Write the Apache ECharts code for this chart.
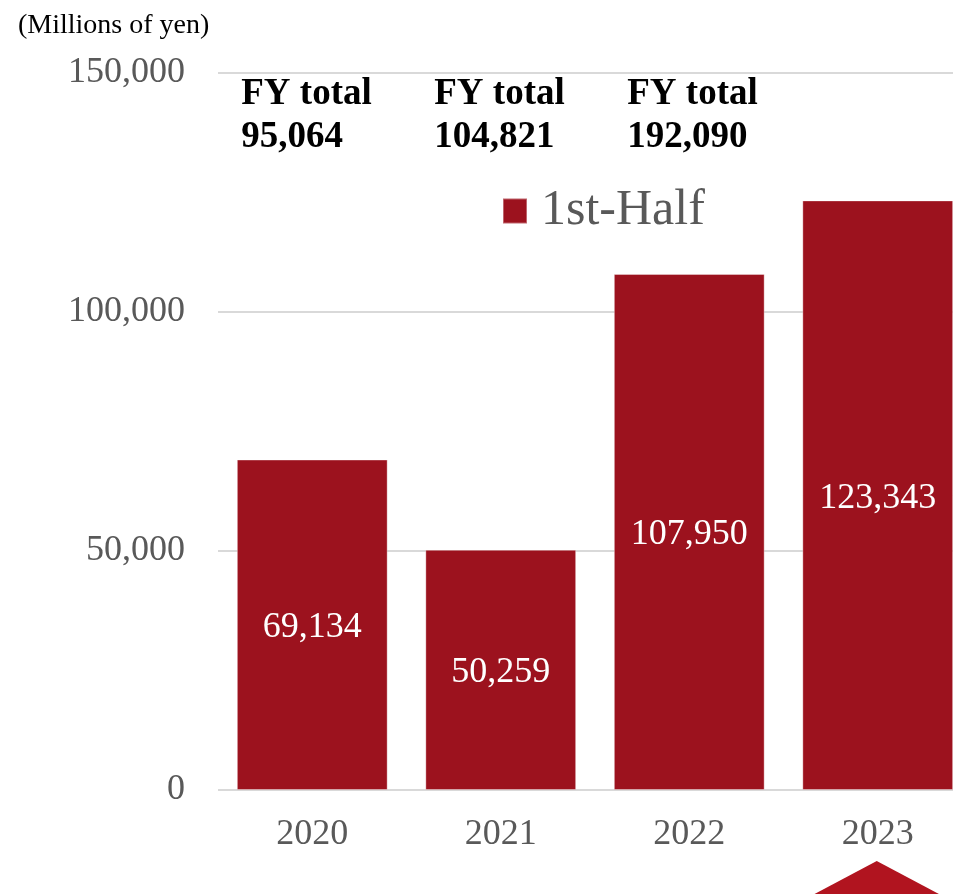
<!DOCTYPE html>
<html>
<head>
<meta charset="utf-8">
<script src="https://cdn.jsdelivr.net/npm/echarts@6/dist/echarts.min.js"></script>
<style>
html,body{margin:0;padding:0;background:#fff;overflow:hidden;}
#c{width:972px;height:894px;}
</style>
</head>
<body>
<div id="c"></div>
<script>
var categories = ['2020', '2021', '2022', '2023'];
var firstHalf = [69134, 50259, 107950, 123343];
var fyTotalYears = ['2020', '2021', '2022'];
var fyTotals = [95064, 104821, 192090];
var yTicks = [0, 50000, 100000, 150000];

var FONT = '"Liberation Serif", "Times New Roman", serif';
function fmt(v){ return Number(v).toLocaleString('en-US'); }

var chart = echarts.init(document.getElementById('c'));
chart.setOption({
  animation: false,
  backgroundColor: '#ffffff',
  grid: { left: 218, top: 73, right: 0, height: 717, containLabel: false },
  legend: {
    data: ['1st-Half'],
    left: 497, top: 181,
    icon: 'rect', itemWidth: 24, itemHeight: 25,
    textStyle: { fontFamily: FONT, fontSize: 50, color: '#595959', padding: [0,0,0,9] }
  },
  xAxis: {
    type: 'category',
    data: categories,
    axisLine: { show: false },
    axisTick: { show: false },
    axisLabel: { fontFamily: FONT, fontSize: 36, color: '#595959', margin: 27 }
  },
  yAxis: {
    type: 'value',
    min: yTicks[0], max: yTicks[yTicks.length-1], interval: yTicks[1]-yTicks[0],
    axisLine: { show: false },
    axisTick: { show: false },
    axisLabel: { fontFamily: FONT, fontSize: 36, color: '#595959', margin: 33, formatter: fmt },
    splitLine: { show: true, lineStyle: { color: '#d9d9d9', width: 2 } }
  },
  series: [{
    name: '1st-Half',
    type: 'bar',
    data: firstHalf,
    barWidth: '80%',
    itemStyle: { color: '#9c121e', borderColor: 'rgba(255,255,255,0.35)', borderWidth: 1 },
    label: {
      show: true, position: 'inside', offset: [0, 3],
      fontFamily: FONT, fontSize: 36, color: '#ffffff',
      formatter: function(p){ return fmt(p.value); }
    }
  }]
});

var graphics = [{
  type: 'text', left: 18, top: 12,
  style: { text: '(Millions of yen)', fontFamily: FONT, fontSize: 28, fill: '#000000' }
}];
fyTotalYears.forEach(function(yr, i){
  var x = chart.convertToPixel({xAxisIndex: 0}, yr);
  graphics.push({
    type: 'text', x: x - 71 + i * 4.5, y: 73,
    style: {
      text: 'FY total\n' + fmt(fyTotals[i]),
      fontFamily: FONT, fontSize: 37, fontWeight: 'bold', fill: '#000000',
      lineHeight: 43
    }
  });
});
var ax = chart.convertToPixel({xAxisIndex: 0}, '2023');
graphics.push({
  type: 'polygon',
  shape: { points: [[ax - 1, 861], [ax - 131, 930], [ax + 129, 930]] },
  style: { fill: '#b1141f' }
});
chart.setOption({ graphic: graphics });
</script>
</body>
</html>
